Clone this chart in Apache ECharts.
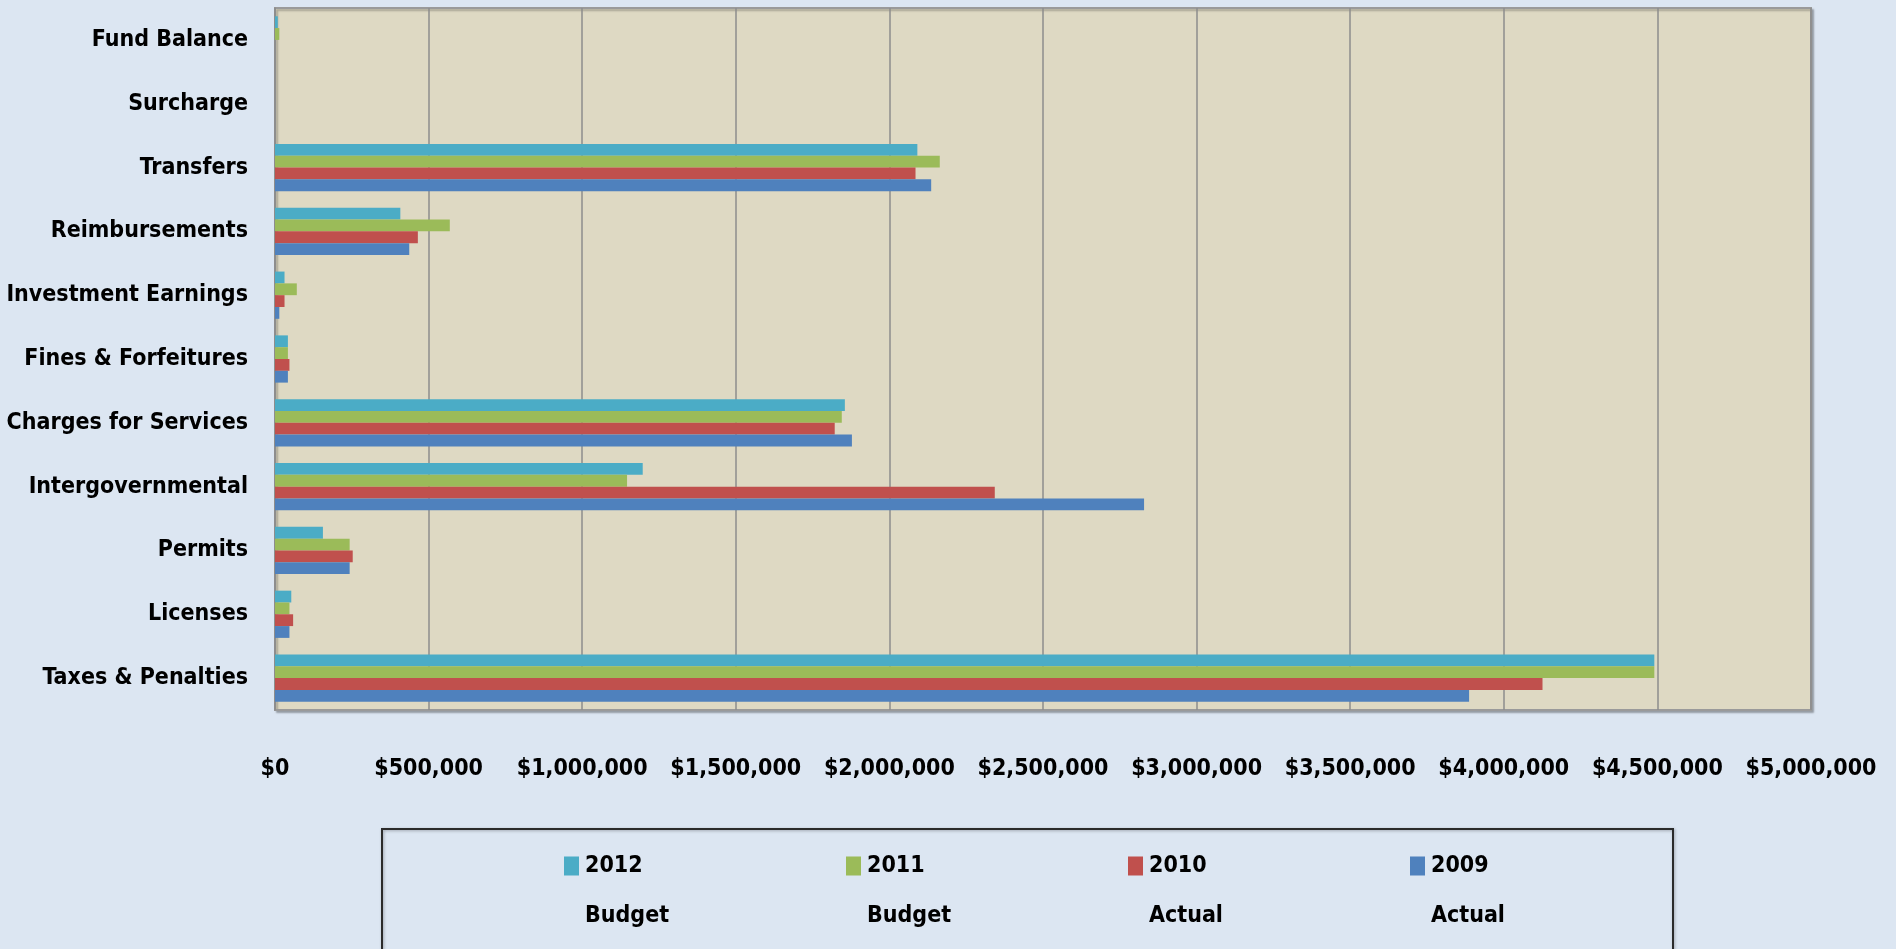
<!DOCTYPE html>
<html>
<head>
<meta charset="utf-8">
<script src="https://cdn.jsdelivr.net/npm/echarts@6/dist/echarts.min.js"></script>
<style>
html,body{margin:0;padding:0;background:#DCE6F2;}
#c{width:1896px;height:949px;}
</style>
</head>
<body>
<div id="c"></div>
<script>
const categories = ['Taxes & Penalties','Licenses','Permits','Intergovernmental','Charges for Services','Fines & Forfeitures','Investment Earnings','Reimbursements','Transfers','Surcharge','Fund Balance'];
const seriesNames = ['2012', '2011', '2010', '2009'];
const seriesSub = ['Budget', 'Budget', 'Actual', 'Actual'];
const values2012 = [4490000, 53000, 156000, 1197000, 1855000, 42000, 31000, 408000, 2091000, 0, 9000];
const values2011 = [4490000, 47000, 243000, 1146000, 1845000, 42000, 71000, 569000, 2164000, 0, 14000];
const values2010 = [4126000, 59000, 253000, 2343000, 1822000, 47000, 31000, 465000, 2085000, 0, 0];
const values2009 = [3887000, 47000, 243000, 2829000, 1878000, 42000, 14000, 437000, 2136000, 0, 0];
const xTicks = {min: 0, max: 5000000, interval: 500000};
const colors = ['#4BACC6', '#9BBB59', '#C0504D', '#4F81BD'];

const FONT = '"Liberation Sans Narrow", "DejaVu Sans Condensed", "Liberation Sans", sans-serif';
const FS = 23;
const allValues = [values2012, values2011, values2010, values2009];

const chart = echarts.init(document.getElementById('c'), null, {renderer: 'canvas'});
const series = seriesNames.map((n, i) => ({
  name: n,
  type: 'bar',
  data: allValues[i],
  barGap: '0%',
  barCategoryGap: '26%',
  itemStyle: {color: colors[i], borderWidth: 0},
  emphasis: {disabled: true}
}));

chart.setOption({
  backgroundColor: '#DCE6F2',
  animation: false,
  color: colors,
  grid: {
    left: 275, right: 85, top: 8, bottom: 239,
    outerBoundsMode: 'none',
    containLabel: false,
    show: true,
    backgroundColor: '#DED9C3',
    borderColor: '#9A9A9A',
    borderWidth: 2,
    shadowColor: 'rgba(0,0,0,0.25)', shadowOffsetX: 2, shadowOffsetY: 2, shadowBlur: 2
  },
  xAxis: {
    type: 'value',
    min: xTicks.min, max: xTicks.max, interval: xTicks.interval,
    axisLine: {show: false},
    axisTick: {show: false},
    splitLine: {show: true, lineStyle: {color: '#8C8C8C', width: 1.5}},
    axisLabel: {
      margin: 48,
      showMaxLabel: true, showMinLabel: true, hideOverlap: false,
      fontFamily: FONT, fontWeight: 'bold', fontSize: FS, color: '#000',
      formatter: v => '$' + v.toLocaleString('en-US')
    }
  },
  yAxis: {
    type: 'category',
    data: categories,
    axisLine: {show: true, lineStyle: {color: '#8C8C8C', width: 1.5}},
    axisTick: {show: false},
    axisLabel: {margin: 27, fontFamily: FONT, fontWeight: 'bold', fontSize: FS, color: '#000'}
  },
  legend: {
    data: seriesNames,
    left: 564, top: 791,
    padding: 0,
    itemWidth: 15, itemHeight: 19,
    itemGap: 19,
    icon: 'rect',
    formatter: name => '\n' + name + '\n' + seriesSub[seriesNames.indexOf(name)],
    textStyle: {fontFamily: FONT, fontWeight: 'bold', fontSize: FS, color: '#000', lineHeight: 50, width: 242, padding: [0, 0, 0, 1]}
  },
  graphic: [{
    type: 'rect',
    shape: {x: 382, y: 829, width: 1291, height: 160},
    style: {fill: 'none', stroke: '#2b2b2b', lineWidth: 2, shadowColor: 'rgba(0,0,0,0.3)', shadowBlur: 3, shadowOffsetX: 1, shadowOffsetY: 1},
    silent: true, z: 1
  }],
  series: series
});
</script>
</body>
</html>
